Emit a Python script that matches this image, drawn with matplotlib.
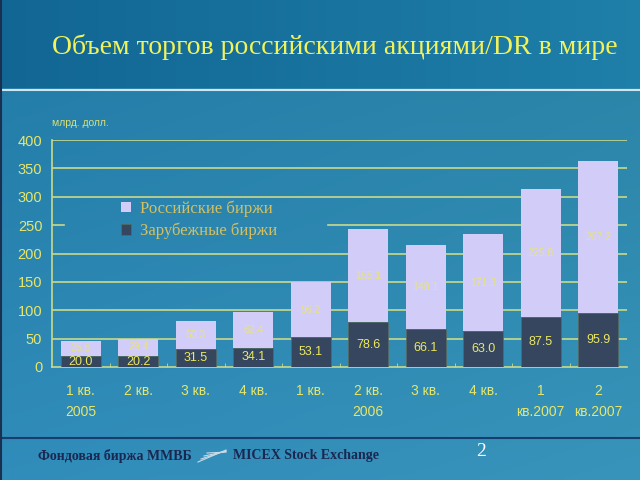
import numpy as np
import matplotlib
matplotlib.use("Agg")
import matplotlib.pyplot as plt
from matplotlib.lines import Line2D

quarters = ["1 кв.\n2005", "2 кв.", "3 кв.", "4 кв.", "1 кв.", "2 кв.\n2006",
            "3 кв.", "4 кв.", "1\nкв.2007", "2\nкв.2007"]
foreign = [20.0, 20.2, 31.5, 34.1, 53.1, 78.6, 66.1, 63.0, 87.5, 95.9]
russian = [25.6, 29.4, 50.3, 62.4, 96.2, 165.1, 148.1, 171.3, 225.8, 267.2]
yticks = [0, 50, 100, 150, 200, 250, 300, 350, 400]

fig = plt.figure(figsize=(6.4, 4.8), dpi=100)

# background
bg = fig.add_axes([0, 0, 1, 1])
yy, xx = np.mgrid[0:1:200j, 0:1:200j]
r = 0.13 + 0.06 * yy + 0.03 * xx
g = 0.48 + 0.07 * yy + 0.03 * xx
b = 0.65 + 0.08 * yy
img = np.dstack([r, g, b])
bg.imshow(img, extent=[0, 1, 0, 1], aspect="auto", origin="upper")
hdr = np.dstack([0.07 + 0.05 * xx[:40], 0.40 + 0.1 * xx[:40], 0.58 + 0.08 * xx[:40]])
bg.imshow(hdr, extent=[0, 1, 1 - 88 / 480, 1], aspect="auto", zorder=2)
bg.add_line(Line2D([0, 1], [1 - 90 / 480] * 2, color="#cfe6f0", lw=1.5, zorder=3))
bg.add_line(Line2D([0, 1], [1 - 438 / 480] * 2, color="#163d6c", lw=1.5, zorder=3))
bg.add_line(Line2D([0.002, 0.002], [0, 1], color="#1a3050", lw=1.5, zorder=3))
bg.set_xlim(0, 1)
bg.set_ylim(0, 1)
bg.axis("off")

fig.text(335 / 640, 1 - 47 / 480, "Объем торгов российскими акциями/DR в мире",
         ha="center", va="center", color="#f2f25a", fontsize=20,
         family="Liberation Serif")

fig.text(38 / 640, 1 - 456 / 480, "Фондовая биржа ММВБ", ha="left", va="center",
         color="#1a2750", fontsize=10, family="Liberation Serif", fontweight="bold")
fig.text(233 / 640, 1 - 456 / 480, "MICEX Stock Exchange", ha="left", va="center",
         color="#1a2750", fontsize=10, family="Liberation Serif", fontweight="bold")
for k in range(4):
    bg.add_line(Line2D([(198 + 3 * k) / 640, 226 / 640],
                       [1 - (462 - 3 * k) / 480, 1 - (450 + 0.7 * k) / 480],
                       color="#c8dbe6", lw=0.8, zorder=3))
fig.text(481 / 640, 1 - 452 / 480, "2", ha="center", va="center",
         color="white", fontsize=14, family="Liberation Serif")

# chart
ax = fig.add_axes([52 / 640, 1 - 367 / 480, 575 / 640, 227 / 480])
ax.patch.set_alpha(0)
x = np.arange(len(quarters))
grid_col = "#c9d98a"
for v in yticks[1:]:
    if v == 250:
        # line is hidden behind the legend except for a short stub
        ax.plot([-0.5, -0.3], [v, v], color=grid_col, lw=1.2, zorder=1)
        ax.plot([4.3, 9.5], [v, v], color=grid_col, lw=1.2, zorder=1)
    else:
        ax.axhline(v, color=grid_col, lw=1.2, zorder=1)

bot = ax.bar(x, foreign, width=0.7, color="#36465e", edgecolor="#5a6a5a",
             lw=0.5, zorder=3, label="Зарубежные биржи")
top = ax.bar(x, russian, width=0.7, bottom=foreign, color="#d2cdf8",
             edgecolor="none", zorder=3, label="Российские биржи")

for i in range(len(x)):
    ax.text(x[i], foreign[i] / 2 if foreign[i] > 25 else foreign[i] / 2 - 1,
            "%.1f" % foreign[i], ha="center", va="center", color="#ece860",
            fontsize=9, family="Liberation Sans", zorder=4)
    ax.text(x[i], foreign[i] + russian[i] / 2, "%.1f" % russian[i],
            ha="center", va="center", color="#ece860", fontsize=7.5,
            family="Liberation Sans", alpha=0.8, zorder=4)

ax.set_xlim(-0.5, len(x) - 0.5)
ax.set_ylim(0, 400)
ax.set_yticks(yticks)
ax.set_xticks(x)
ax.set_xticklabels(quarters, linespacing=1.7)
ax.set_xticks(x[:-1] + 0.5, minor=True)
ax.tick_params(axis="x", which="major", length=0, pad=12, colors="#e6e66a",
               labelsize=10)
ax.tick_params(axis="x", which="minor", length=3, color=grid_col, direction="in")
ax.tick_params(axis="y", length=0, pad=7, colors="#e6e66a", labelsize=10.5)
for lab in ax.get_xticklabels() + ax.get_yticklabels():
    lab.set_family("Liberation Sans")
for s in ["top", "right"]:
    ax.spines[s].set_visible(False)
ax.spines["left"].set_color(grid_col)
ax.spines["bottom"].set_color(grid_col)
ax.spines["left"].set_linewidth(1.2)
ax.spines["bottom"].set_linewidth(1.2)

ax.text(0.0, 1.055, "млрд. долл.", transform=ax.transAxes, ha="left",
        va="bottom", color="#d8e07a", fontsize=7.5, family="Liberation Sans")

leg = ax.legend(handles=[top, bot], loc="upper left",
                bbox_to_anchor=(0.1, 0.785), frameon=False, handlelength=0.6,
                handleheight=0.6, handletextpad=0.5, labelspacing=0.35,
                borderpad=0.2, prop={"family": "Liberation Serif", "size": 12})
for t in leg.get_texts():
    t.set_color("#d4c060")
leg.set_zorder(2)

fig.savefig("out.png", dpi=100)
